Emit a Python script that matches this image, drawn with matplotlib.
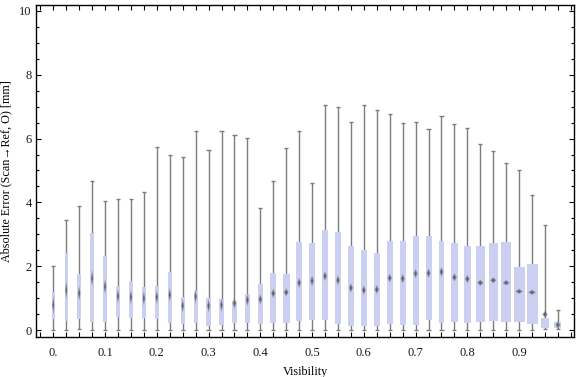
import numpy as np
import matplotlib
matplotlib.use("Agg")
import matplotlib.pyplot as plt
from matplotlib.patches import Rectangle, Polygon
from matplotlib.ticker import FixedLocator, FixedFormatter, MultipleLocator

plt.rcParams['font.family'] = ['Liberation Serif', 'DejaVu Serif']

# Data
visibility = [0.0, 0.025, 0.05, 0.075, 0.1, 0.125, 0.15, 0.175, 0.2, 0.225,
              0.25, 0.275, 0.3, 0.325, 0.35, 0.375, 0.4, 0.425, 0.45, 0.475,
              0.5, 0.525, 0.55, 0.575, 0.6, 0.625, 0.65, 0.675, 0.7, 0.725,
              0.75, 0.775, 0.8, 0.825, 0.85, 0.875, 0.9, 0.925, 0.95, 0.975]
whisker_low = [0.0, 0.0, 0.02, 0.0, 0.0, 0.0, 0.0, 0.0, 0.0, 0.0,
               0.0, 0.0, 0.0, 0.0, 0.0, 0.0, 0.0, 0.0, 0.0, 0.0,
               0.0, 0.0, 0.0, 0.0, 0.0, 0.0, 0.0, 0.0, 0.0, 0.0,
               0.0, 0.0, 0.0, 0.0, 0.0, 0.0, 0.0, 0.0, 0.02, 0.02]
q1 = [0.34, 0.29, 0.34, 0.24, 0.26, 0.41, 0.39, 0.39, 0.34, 0.22,
      0.20, 0.22, 0.14, 0.16, 0.22, 0.22, 0.20, 0.22, 0.23, 0.28,
      0.32, 0.32, 0.20, 0.14, 0.14, 0.14, 0.20, 0.16, 0.16, 0.32,
      0.22, 0.26, 0.23, 0.26, 0.27, 0.26, 0.26, 0.20, 0.05, 0.06]
median = [0.78, 1.25, 1.15, 1.62, 1.36, 1.06, 1.03, 0.99, 1.03, 1.10,
          0.76, 1.05, 0.76, 0.78, 0.84, 0.94, 0.96, 1.15, 1.18, 1.48,
          1.54, 1.69, 1.56, 1.32, 1.25, 1.27, 1.63, 1.61, 1.77, 1.78,
          1.82, 1.65, 1.60, 1.48, 1.56, 1.48, 1.21, 1.18, 0.49, 0.16]
q3 = [1.18, 2.41, 1.75, 3.04, 2.31, 1.38, 1.54, 1.36, 1.38, 1.82,
      1.03, 1.22, 1.00, 0.97, 0.91, 1.12, 1.44, 1.79, 1.76, 2.76,
      2.73, 3.13, 3.07, 2.63, 2.51, 2.42, 2.79, 2.78, 2.96, 2.96,
      2.79, 2.73, 2.64, 2.64, 2.73, 2.76, 1.97, 2.08, 0.39, 0.25]
whisker_high = [2.00, 3.44, 3.89, 4.66, 4.03, 4.11, 4.11, 4.32, 5.73, 5.48,
                5.41, 6.23, 5.64, 6.23, 6.10, 6.01, 3.82, 4.66, 5.70, 6.24,
                4.60, 7.05, 6.98, 6.52, 7.05, 6.90, 6.77, 6.49, 6.52, 6.30,
                6.71, 6.46, 6.33, 5.83, 5.61, 5.24, 5.02, 4.22, 3.29, 0.63]
# box width relative to the bin spacing
rel_width = [0.23, 0.23, 0.29, 0.26, 0.29, 0.29, 0.29, 0.29, 0.31, 0.31,
             0.31, 0.31, 0.33, 0.31, 0.40, 0.36, 0.41, 0.46, 0.55, 0.42,
             0.40, 0.44, 0.42, 0.46, 0.46, 0.49, 0.49, 0.46, 0.46, 0.46,
             0.46, 0.54, 0.54, 0.70, 0.70, 0.77, 0.85, 0.85, 0.62, 0.54]

x_ticks = [0.0, 0.1, 0.2, 0.3, 0.4, 0.5, 0.6, 0.7, 0.8, 0.9]
x_labels = ["0.", "0.1", "0.2", "0.3", "0.4", "0.5", "0.6", "0.7", "0.8", "0.9"]
y_ticks = [0, 2, 4, 6, 8, 10]

STEP = 0.025
BOX_COLOR = '#cbd0f3'
WHISKER_COLOR = '#7c7c7c'
MEDIAN_COLOR = '#5e5e5e'

fig = plt.figure(figsize=(5.76, 3.77), dpi=100)
ax = fig.add_axes([0.0625, 0.106, 0.934, 0.882])

for i, x in enumerate(visibility):
    w = rel_width[i] * STEP
    cap = 0.16 * STEP
    ax.vlines(x, whisker_low[i], whisker_high[i], color=WHISKER_COLOR, lw=1.0, zorder=1)
    ax.hlines([whisker_low[i], whisker_high[i]], x - cap, x + cap,
              color=WHISKER_COLOR, lw=1.0, zorder=1)
    ax.add_patch(Rectangle((x - w / 2, q1[i]), w, q3[i] - q1[i],
                           facecolor=BOX_COLOR, edgecolor='none', zorder=2))
    # blurred diamond for the median
    hh = 0.14 / rel_width[i] / 2
    hw = 0.36 * w
    for scale, alpha in [(1.0, 0.45), (0.65, 0.7), (0.35, 0.9)]:
        pts = [(x, median[i] + hh * scale), (x + hw * scale, median[i]),
               (x, median[i] - hh * scale), (x - hw * scale, median[i])]
        ax.add_patch(Polygon(pts, closed=True, facecolor=MEDIAN_COLOR,
                             edgecolor='none', alpha=alpha, zorder=3))

ax.set_xlim(-0.0334, 1.006)
ax.set_ylim(-0.22, 10.2)

ax.xaxis.set_major_locator(FixedLocator(x_ticks))
ax.xaxis.set_major_formatter(FixedFormatter(x_labels))
ax.xaxis.set_minor_locator(MultipleLocator(STEP))
ax.yaxis.set_major_locator(FixedLocator(y_ticks))
ax.yaxis.set_minor_locator(MultipleLocator(0.5))

ax.tick_params(axis='both', which='both', direction='in', top=True, right=True,
               color='black', width=0.8, labelsize=9, labelcolor='#1a1a1a')
ax.tick_params(axis='both', which='major', length=3.4)
ax.tick_params(axis='x', which='minor', length=3.4)
ax.tick_params(axis='y', which='minor', length=2.2)
ax.tick_params(axis='x', which='major', pad=7)
ax.tick_params(axis='y', which='major', pad=3)

for side in ax.spines.values():
    side.set_linewidth(1.0)

ax.set_xlabel("Visibility", fontsize=8.7, labelpad=5)
ax.set_ylabel("Absolute Error (Scan\u2192Ref, O) [mm]", fontsize=8.7, labelpad=5)

fig.savefig("out.png", dpi=100)
